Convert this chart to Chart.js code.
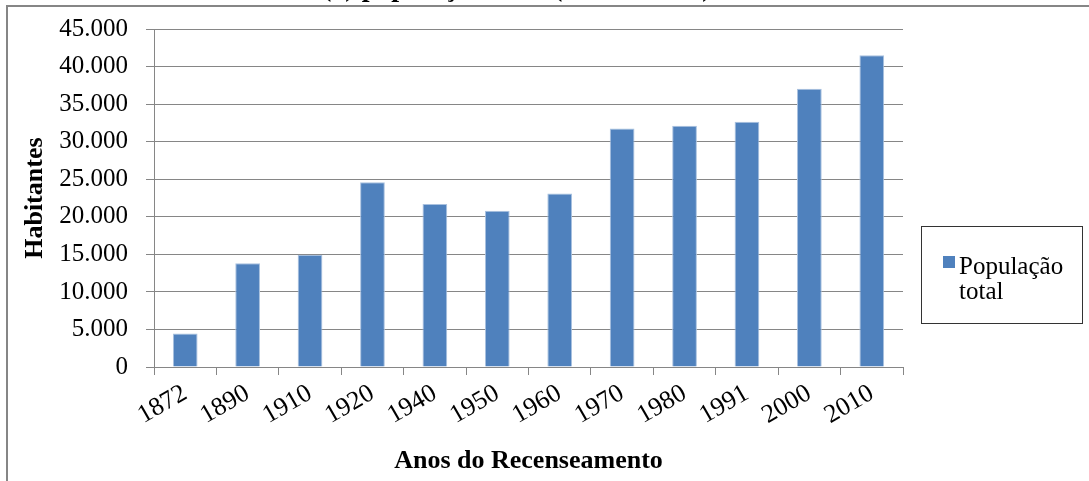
<!DOCTYPE html>
<html>
<head>
<meta charset="utf-8">
<script src="https://cdn.jsdelivr.net/npm/chart.js@4"></script>
<style>
    html, body { margin: 0; padding: 0; background: #fff; }
    #box { width: 1089px; height: 481px; }
</style>
</head>
<body>
<div id="box"><canvas id="visu" width="1089" height="481"></canvas></div>
<script>
// Données du graphique
const anos = ['1872', '1890', '1910', '1920', '1940', '1950', '1960', '1970', '1980', '1991', '2000', '2010'];
const populacao = [4470, 13830, 14940, 24600, 21720, 20830, 23100, 31780, 32140, 32670, 37060, 41530];
const yMax = 45000;
const yPasso = 5000;
const tituloTexto = '(a) população total (1872 – 2010)';
const legendaLinhas = ['População', 'total'];

const azul = '#4F81BD';
const cinza = '#868686';
const serif = '"Liberation Serif", "Times New Roman", serif';

// formatage 45.000
function formatarMilhar(v) {
    return String(v).replace(/\B(?=(\d{3})+(?!\d))/g, '.');
}

// cadre, titre coupé et légende dessinés à la main
const decor = {
    id: 'decor',
    beforeDraw(chart) {
        const ctx = chart.ctx;
        ctx.save();
        ctx.fillStyle = '#fff';
        ctx.fillRect(0, 0, chart.width, chart.height);
        ctx.strokeStyle = cinza;
        ctx.lineWidth = 2;
        ctx.beginPath();
        ctx.moveTo(chart.width, 6);
        ctx.lineTo(7, 6);
        ctx.lineTo(7, chart.height);
        ctx.stroke();

        // seul le bas du titre est visible
        ctx.fillStyle = '#000';
        ctx.font = 'bold 28px ' + serif;
        ctx.textAlign = 'left';
        ctx.textBaseline = 'alphabetic';
        ctx.fillText(tituloTexto, 322, -4);
        ctx.restore();
    },
    afterDraw(chart) {
        const ctx = chart.ctx;
        ctx.save();
        ctx.strokeStyle = '#333';
        ctx.lineWidth = 1;
        ctx.strokeRect(921.5, 226.5, 161, 97);
        ctx.fillStyle = azul;
        ctx.fillRect(943, 256, 12, 12);
        ctx.fillStyle = '#000';
        ctx.font = '25px ' + serif;
        ctx.textBaseline = 'alphabetic';
        ctx.fillText(legendaLinhas[0], 959, 274);
        ctx.fillText(legendaLinhas[1], 959, 299);
        ctx.restore();
    }
};

const config = {
    type: 'bar',
    data: {
        labels: anos,
        datasets: [{
            label: 'População total',
            data: populacao,
            backgroundColor: azul,
            borderColor: '#A9C1DF',
            borderWidth: 1,
            barPercentage: 0.396,
            categoryPercentage: 1
        }]
    },
    options: {
        responsive: false,
        animation: false,
        layout: {
            padding: { top: 15, right: 186, bottom: 0, left: 0 }
        },
        plugins: {
            legend: { display: false },
            tooltip: { enabled: false }
        },
        scales: {
            x: {
                offset: true,
                afterFit: scale => { scale.height = 114; },
                grid: {
                    offset: true,
                    drawOnChartArea: false,
                    drawTicks: true,
                    tickLength: 8,
                    color: cinza
                },
                border: { color: cinza, width: 1 },
                ticks: {
                    autoSkip: false,
                    minRotation: 30,
                    maxRotation: 30,
                    padding: 3,
                    color: '#000',
                    font: { family: serif, size: 26 }
                },
                title: {
                    display: true,
                    text: 'Anos do Recenseamento',
                    color: '#000',
                    font: { family: serif, size: 26, weight: 'bold' },
                    padding: { top: 0, bottom: 4 }
                }
            },
            y: {
                min: 0,
                max: yMax,
                afterFit: scale => { scale.width = 154; },
                grid: {
                    color: cinza,
                    tickLength: 8,
                    lineWidth: 1
                },
                border: { color: cinza, width: 1 },
                ticks: {
                    stepSize: yPasso,
                    padding: 18,
                    color: '#000',
                    font: { family: serif, size: 25, lineHeight: 0.9 },
                    callback: v => formatarMilhar(v)
                },
                title: {
                    display: true,
                    text: 'Habitantes',
                    color: '#000',
                    font: { family: serif, size: 26, weight: 'bold' },
                    padding: { top: 20, bottom: 0 }
                }
            }
        }
    },
    plugins: [decor]
};

const ctx = document.getElementById('visu').getContext('2d');
const currentChart = new Chart(ctx, config);
</script>
</body>
</html>
